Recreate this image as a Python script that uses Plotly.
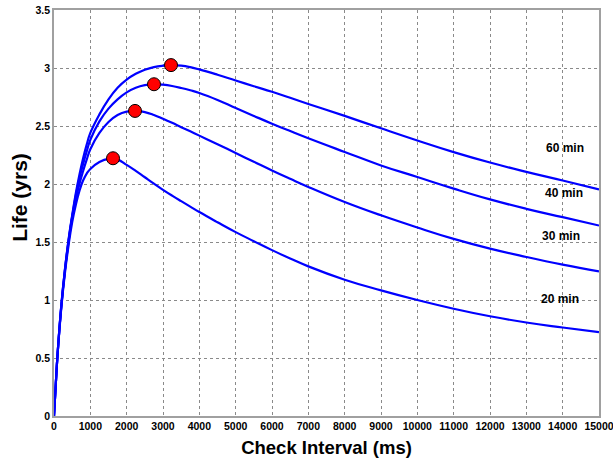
import plotly.graph_objects as go

# Check interval (ms)
x_ms = [0, 50, 100, 200, 300, 400, 500, 600, 700, 800, 900, 1000, 1250, 1500, 1750,
        2000, 2250, 2500, 2750, 3000, 3250, 3500, 3750, 4000, 4500, 5000, 5500, 6000,
        6500, 7000, 8000, 9000, 10000, 11000, 12000, 13000, 14000, 15000]

life_20 = [0, 0.28, 0.54, 0.93, 1.23, 1.47, 1.67, 1.82, 1.94, 2.03, 2.09, 2.13, 2.19, 2.217, 2.21,
           2.165, 2.113, 2.058, 2.003, 1.95, 1.90, 1.852, 1.805, 1.758, 1.67, 1.585, 1.507, 1.43,
           1.358, 1.29, 1.175, 1.083, 1.0, 0.925, 0.86, 0.806, 0.763, 0.723]
life_30 = [0, 0.28, 0.54, 0.94, 1.25, 1.5, 1.71, 1.87, 2.0, 2.11, 2.21, 2.30, 2.44, 2.535, 2.595,
           2.624, 2.63, 2.62, 2.595, 2.562, 2.527, 2.49, 2.454, 2.417, 2.343, 2.267, 2.192, 2.117,
           2.045, 1.975, 1.845, 1.73, 1.625, 1.527, 1.443, 1.371, 1.305, 1.247]
life_40 = [0, 0.28, 0.54, 0.95, 1.26, 1.51, 1.72, 1.9, 2.05, 2.17, 2.28, 2.38, 2.54, 2.65, 2.73,
           2.79, 2.83, 2.852, 2.86, 2.856, 2.845, 2.828, 2.808, 2.785, 2.725, 2.655, 2.587, 2.52,
           2.456, 2.394, 2.276, 2.16, 2.06, 1.96, 1.867, 1.786, 1.714, 1.642]
life_60 = [0, 0.28, 0.54, 0.95, 1.26, 1.52, 1.73, 1.92, 2.08, 2.22, 2.34, 2.44, 2.60, 2.73, 2.83,
           2.90, 2.95, 2.985, 3.008, 3.02, 3.025, 3.02, 3.007, 2.988, 2.942, 2.892, 2.843, 2.795,
           2.743, 2.69, 2.587, 2.48, 2.375, 2.275, 2.185, 2.105, 2.03, 1.953]

series = [("20 min", life_20), ("30 min", life_30), ("40 min", life_40), ("60 min", life_60)]

# optimum points
peak_x = [1624, 2230, 2752, 3220]
peak_y = [2.222, 2.63, 2.86, 3.025]

# curve labels
label_text = ["60 min", "40 min", "30 min", "20 min"]
label_x = [14065, 14030, 13950, 13920]
label_y = [2.31, 1.92, 1.55, 1.01]

x_ticks = list(range(0, 15001, 1000))
y_ticks = [0, 0.5, 1, 1.5, 2, 2.5, 3, 3.5]
y_tick_text = ["0", "0.5", "1", "1.5", "2", "2.5", "3", "3.5"]

FONT = "Arial, Liberation Sans"

fig = go.Figure()
for name, ys in series:
    fig.add_trace(go.Scatter(x=x_ms, y=ys, mode="lines", name=name,
                             line=dict(color="#0000FF", width=2.2, shape="spline", smoothing=1.3),
                             showlegend=False, hoverinfo="skip"))

fig.add_trace(go.Scatter(x=peak_x, y=peak_y, mode="markers", showlegend=False,
                         marker=dict(color="#FF0000", size=13,
                                     line=dict(color="#000000", width=1))))

for t, lx, ly in zip(label_text, label_x, label_y):
    fig.add_annotation(x=lx, y=ly, text="<b>" + t + "</b>", showarrow=False,
                       xanchor="center", yanchor="middle",
                       font=dict(family=FONT, size=12, color="#000000"))

# y-axis title placed as rotated text
fig.add_annotation(xref="paper", yref="paper", x=-0.063, y=0.539, text="<b>Life (yrs)</b>",
                   textangle=-90, showarrow=False, xanchor="center", yanchor="middle",
                   font=dict(family=FONT, size=21, color="#000000"))

axis_common = dict(showgrid=True, gridcolor="#8a8a8a", griddash="dot", gridwidth=1,
                   zeroline=False, showline=True, linecolor="#a0a0a0", linewidth=1.5,
                   mirror=True, ticks="", automargin=False, ticklabeloverflow="allow",
                   tickfont=dict(family=FONT, size=10.5, color="#000000"))

fig.update_xaxes(range=[0, 15000], tickvals=x_ticks,
                 ticktext=["<b>%d</b>" % v for v in x_ticks],
                 title=dict(text="<b>Check Interval (ms)</b>", standoff=10,
                            font=dict(family=FONT, size=18.5, color="#000000")),
                 **axis_common)
fig.update_yaxes(range=[0, 3.5], tickvals=y_ticks,
                 ticktext=["<b>%s</b>" % s for s in y_tick_text],
                 **axis_common)

fig.update_layout(width=613, height=462, margin=dict(l=54, r=14, t=10, b=46, autoexpand=False),
                  paper_bgcolor="#FFFFFF", plot_bgcolor="#FFFFFF")

fig.write_html("out.html")
